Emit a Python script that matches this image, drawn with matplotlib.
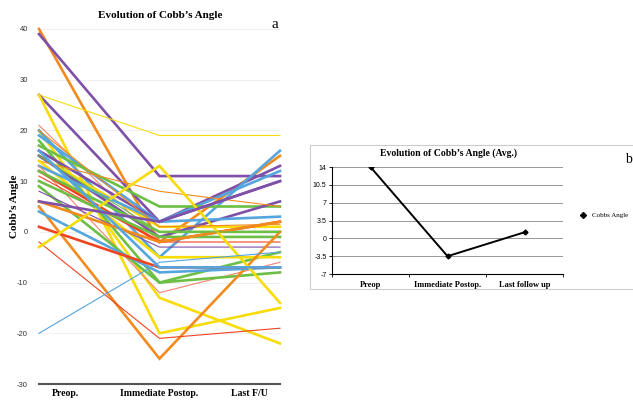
import numpy as np
import matplotlib.pyplot as plt
from matplotlib.patches import Rectangle

plt.rcParams['axes.unicode_minus'] = False

# panel a: individual patients (preop, immediate postop, last F/U)
stages = ['Preop.', 'Immediate Postop.', 'Last F/U']
colors = ['orange', 'purple', 'yellow', 'purple', 'yellow', 'salmon', 'yellow', 'blue',
          'blue', 'green', 'green', 'purple', 'yellow', 'purple', 'orange', 'yellow',
          'blue', 'salmon', 'red', 'green', 'red', 'green', 'green', 'purple',
          'orange', 'orange', 'blue', 'red', 'red', 'yellow', 'blue', 'green',
          'blue', 'orange', 'purple']
thick = [1, 1, 0, 1, 1, 0, 1, 1, 1, 1, 1, 1, 1, 1, 0, 1,
         1, 0, 1, 1, 0, 1, 1, 0, 1, 1, 1, 1, 0, 1, 0, 0,
         1, 0, 1]
preop = [40, 39, 27, 27, 27, 21, 20, 20, 19, 18, 17, 16, 15, 15, 14, 14,
         13, 13, 12, 12, 11, 10, 9, 8, 6, 5, 4, 1, -2, -3, -20, 15,
         16, 20, 6]
immed = [-2, 11, 19, 2, -20, -2, -13, -5, 2, -10, 5, 2, 1, -1, 8, -5,
         2, -12, -2, 0, -2, -1, -10, -3, -2, -25, -8, -7, -21, 13, -6, 0,
         -7, 1, 2]
last = [15, 11, 19, 13, -15, 2, -22, 16, 12, -4, 5, 10, 1, 6, 5, -5,
        3, -6, 2, 0, -2, -1, -8, -3, 2, 0, -7, -7, -19, -14, -4, 0,
        -7, 1.5, 10]

# panel b: average
avg_labels = ['Preop', 'Immediate Postop.', 'Last follow up']
avg_vals = [14, -3.5, 1.2]

palette = {'orange': '#f28a1e', 'purple': '#7e50a8', 'yellow': '#f8dc0a',
           'green': '#6cbf45', 'blue': '#55a5de', 'red': '#ef4421', 'salmon': '#f4826c'}

serif = 'Liberation Serif'
sans = 'Liberation Sans'

fig = plt.figure(figsize=(6.33, 4.03), dpi=100)

# ---- panel a
ax = fig.add_axes([0.0616, 0.0471, 0.3807, 0.881])
xs = np.arange(3)
for c, t, a, b, l in zip(colors, thick, preop, immed, last):
    ax.plot(xs, [a, b, l], color=palette[c], lw=1.9 if t else 0.8,
            solid_joinstyle='miter', clip_on=False, zorder=2)
ax.set_xlim(0, 2)
ax.set_ylim(-30, 40)
ax.set_yticks(np.arange(-30, 41, 10))
ax.set_xticks([])
ax.tick_params(axis='y', length=0, labelsize=5.5, labelcolor='#333333', pad=8)
for lab in ax.get_yticklabels():
    lab.set_family(sans)
ax.grid(axis='y', color='#ececec', lw=0.6, zorder=0)
for s in ['top', 'right', 'left']:
    ax.spines[s].set_visible(False)
ax.spines['bottom'].set_color('#555555')
ax.spines['bottom'].set_linewidth(1.5)
# category labels sit off the data points, as in the original
for xpos, lab in zip([0.216, 1.0, 1.75], stages):
    ax.text(xpos, -31.9, lab, family=serif, fontweight='bold', fontsize=7,
            ha='center', va='center')
ax.set_ylabel("Cobb\u2019s Angle", family=serif, fontweight='bold', fontsize=8)
ax.yaxis.set_label_coords(-0.085, 0.5)
fig.text(160 / 633, 1 - 15 / 403, "Evolution of Cobb\u2019s Angle", family=serif,
         fontweight='bold', fontsize=8, ha='center', va='center')
fig.text(275 / 633, 1 - 24 / 403, 'a', family=serif, fontsize=11, ha='center', va='center')

# ---- panel b
fig.patches.append(Rectangle((310 / 633, 1 - 289 / 403), 0.52, 144 / 403,
                             transform=fig.transFigure, fill=False,
                             edgecolor='#cccccc', lw=0.8))
bx = fig.add_axes([0.5245, 0.320, 0.365, 0.2655])
bx.plot(np.arange(3), avg_vals, color='black', lw=1.4, marker='D', markersize=2.5)
bx.set_xlim(-0.5, 2.5)
bx.set_ylim(-7, 14)
bx.set_yticks([-7, -3.5, 0, 3.5, 7, 10.5, 14])
bx.set_yticklabels(['-7', '-3.5', '0', '3.5', '7', '10.5', '14'])
bx.tick_params(axis='y', length=2, labelsize=5, width=0.6, pad=2)
for lab in bx.get_yticklabels():
    lab.set_family(sans)
bx.set_xticks([-0.5, 0.5, 1.5, 2.5])
bx.set_xticklabels([])
bx.set_xticks(np.arange(3), minor=True)
bx.set_xticklabels(avg_labels, minor=True, family=serif, fontweight='bold', fontsize=6)
bx.tick_params(axis='x', which='major', length=2, width=0.6)
bx.tick_params(axis='x', which='minor', length=0, pad=5)
bx.grid(axis='y', color='#888888', lw=0.6)
bx.spines['top'].set_visible(False)
bx.spines['right'].set_visible(False)
bx.spines['left'].set_linewidth(0.8)
bx.spines['bottom'].set_linewidth(0.8)
fig.text(448 / 633, 1 - 153 / 403, "Evolution of Cobb\u2019s Angle (Avg.)", family=serif,
         fontweight='bold', fontsize=7, ha='center', va='center')
fig.text(628 / 633, 1 - 159 / 403, 'b', family=serif, fontsize=10, ha='center', va='center')
fig.lines.append(plt.Line2D([583 / 633], [1 - 215 / 403], marker='D', markersize=3,
                            color='black', transform=fig.transFigure))
fig.text(592 / 633, 1 - 215 / 403, 'Cobbs Angle', family=serif, fontsize=5,
         ha='left', va='center')

fig.savefig('out.png', dpi=100)
